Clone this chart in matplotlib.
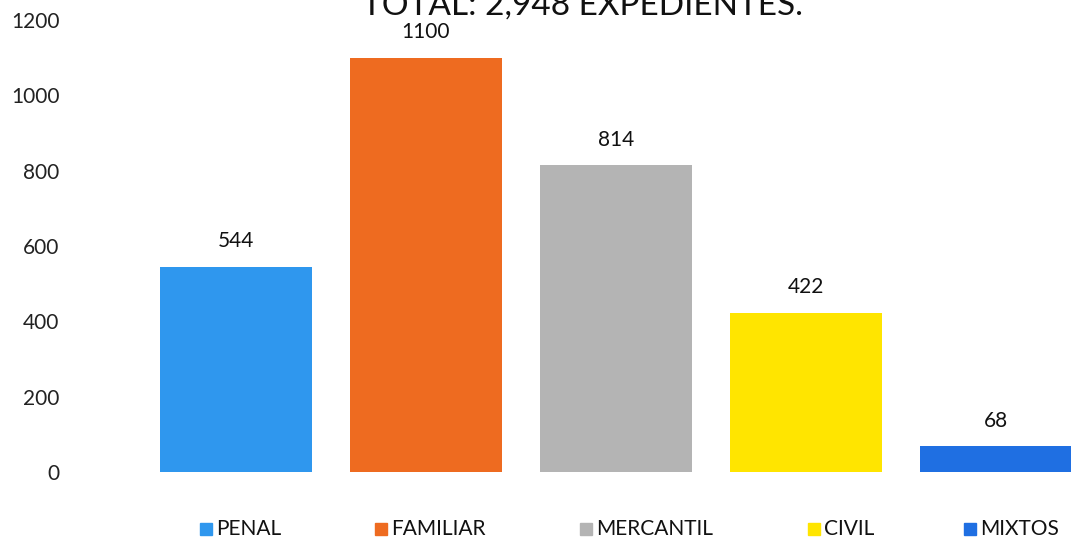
import matplotlib.pyplot as plt
from matplotlib.patches import Rectangle

categories = ['PENAL', 'FAMILIAR', 'MERCANTIL', 'CIVIL', 'MIXTOS']
values = [544, 1100, 814, 422, 68]
yticks = [0, 200, 400, 600, 800, 1000, 1200]
title = 'TOTAL: 2,948 EXPEDIENTES.'

colors = ['#2F97EE', '#EE6B20', '#B4B4B4', '#FFE500', '#1F6FE2']
legend_x = [200, 375, 580, 808, 964]

plt.rcParams['font.family'] = ['Lato', 'DejaVu Sans']

fig = plt.figure(figsize=(10.71, 5.39), dpi=100)
ax = fig.add_axes([65 / 1071, 67 / 539, 1006 / 1071, 452 / 539])

x = range(len(categories))
ax.bar(x, values, width=0.8, color=colors)
for i, v in enumerate(values):
    ax.text(i, v + 42, str(v), ha='center', va='bottom', fontsize=15, color='#111111')

ax.set_xlim(-0.9, 4.395)
ax.set_ylim(0, 1200)
ax.set_yticks(yticks)
ax.set_yticklabels([str(t) for t in yticks], fontsize=15, color='#222222')
ax.tick_params(axis='y', length=0, pad=4)
ax.set_xticks([])
for s in ax.spines.values():
    s.set_visible(False)

fig.text(582 / 1071, 1 - 15 / 539, title, ha='center', va='baseline', fontsize=24, color='#111111')

for cat, col, lx in zip(categories, colors, legend_x):
    fig.patches.append(Rectangle((lx / 1071, (539 - 535) / 539), 12 / 1071, 12 / 539,
                                 transform=fig.transFigure, color=col))
    fig.text((lx + 16) / 1071, (539 - 529) / 539, cat, ha='left', va='center', fontsize=15, color='#111111')

fig.savefig('out.png', dpi=100)
